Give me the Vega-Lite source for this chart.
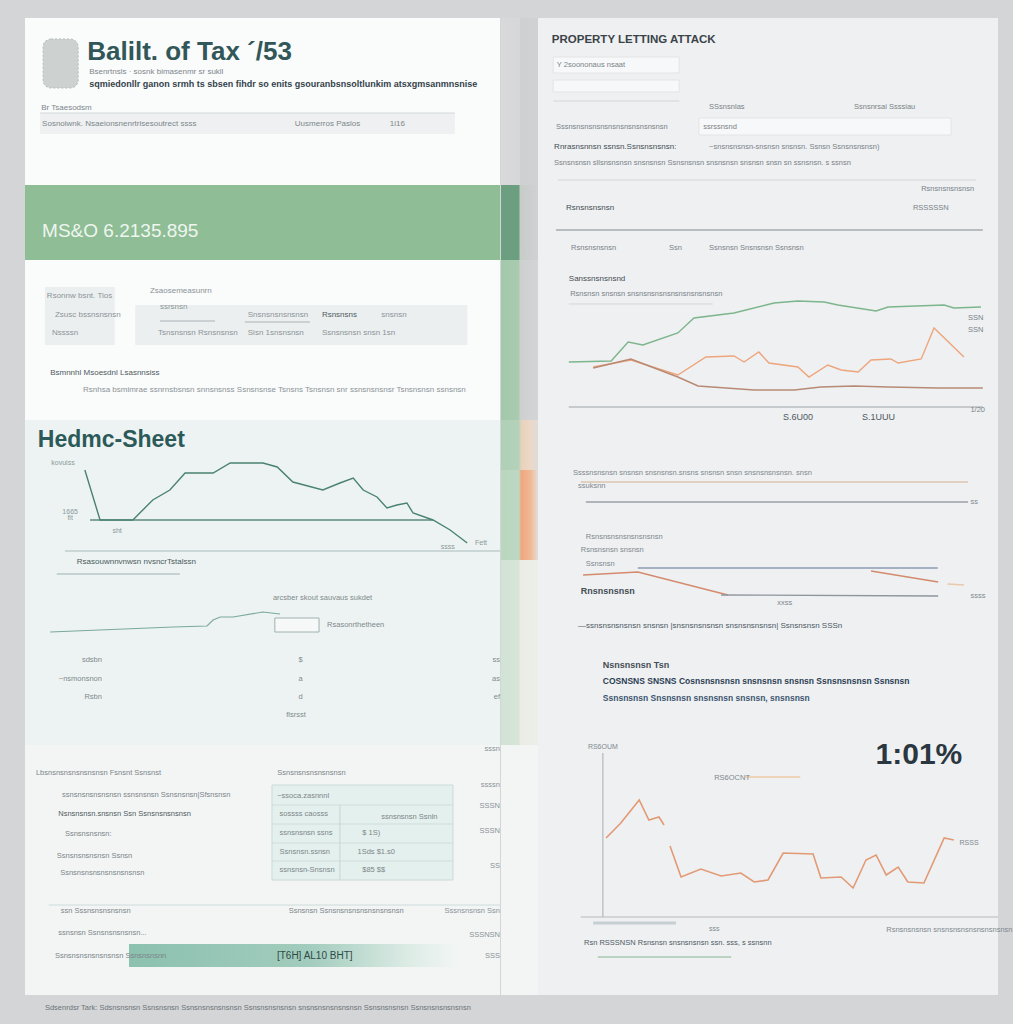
{
"$schema":"https://vega.github.io/schema/vega-lite/v6.json",
"background":"#d4d5d7",
"padding":{"left":25,"top":18,"right":0,"bottom":0},
"spacing":0,
"resolve":{"scale":{"color":"independent"}},
"config":{"view":{"stroke":null},"text":{"font":"Liberation Sans Narrow, Liberation Sans, sans-serif"},"concat":{"spacing":0}},
"hconcat":[
{"spacing":0,"bounds":"flush","vconcat":[
{"width":475,"height":167,"view":{"fill":"#fafbfb"},
"encoding":{"x":{"field":"t","type":"quantitative","scale":{"domain":[0,100],"nice":false,"zero":false},"axis":null},"y":{"field":"v","type":"quantitative","scale":{"domain":[0,167],"nice":false,"zero":false},"axis":null}},
"layer":[
{"data":{"values":[{"t":3.8,"t2":11.2,"v":146,"v2":97}]},"mark":{"type":"rect","color":"#cdd2d1","cornerRadius":8,"stroke":"#b4bcbb","strokeDash":[2,2],"strokeWidth":1},"encoding":{"x2":{"field":"t2"},"y2":{"field":"v2"}}},
{"data":{"values":[{"t":3.2,"t2":90.5,"v":72,"v2":51}]},"mark":{"type":"rect","color":"#eef0f1"},"encoding":{"x2":{"field":"t2"},"y2":{"field":"v2"}}},
{"data":{"values":[{"t":3.2,"t2":90.5,"v":72}]},"mark":{"type":"rule","color":"#d3d8da"},"encoding":{"x2":{"field":"t2"}}},
{"data":{"values":[{"t":13.1,"v":133,"txt":"Balilt. of Tax ´/53"}]},"mark":{"type":"text","align":"left","baseline":"middle","font":"Liberation Sans","fontWeight":"bold","fontSize":26,"color":"#325759"},"encoding":{"text":{"field":"txt"}}},
{"data":{"values":[{"t":13.5,"v":113,"txt":"Bsenrtnsls · sosnk bimasenmr sr sukll"},{"t":3.4,"v":77,"txt":"Br Tsaesodsm"},{"t":3.6,"v":61,"txt":"Sosnoiwnk. Nsaeionsnenrtrisesoutrect  ssss"},{"t":56.8,"v":61,"txt":"Uusmerros  Paslos"},{"t":76.8,"v":61,"txt":"1i16"}]},"mark":{"type":"text","align":"left","baseline":"middle","fontSize":8,"color":"#7d868b"},"encoding":{"text":{"field":"txt"}}},
{"data":{"values":[{"t":13.5,"v":101,"txt":"sqmiedonllr  ganon  srmh ts sbsen fihdr so enits gsouranbsnsoltlunkim atsxgmsanmnsnise"}]},"mark":{"type":"text","align":"left","baseline":"middle","fontSize":9,"fontWeight":"bold","color":"#34424a"},"encoding":{"text":{"field":"txt"}}}
]},
{"width":475,"height":75,"view":{"fill":"#8fbd96"},
"encoding":{"x":{"field":"t","type":"quantitative","scale":{"domain":[0,100],"nice":false,"zero":false},"axis":null},"y":{"field":"v","type":"quantitative","scale":{"domain":[0,75],"nice":false,"zero":false},"axis":null}},
"layer":[
{"data":{"values":[{"t":3.6,"v":29,"txt":"MS&O 6.2135.895"}]},"mark":{"type":"text","align":"left","baseline":"middle","font":"Liberation Sans","fontSize":19,"color":"#eef6ef"},"encoding":{"text":{"field":"txt"}}}
]},
{"width":475,"height":160,"view":{"fill":"#fafbfb"},
"encoding":{"x":{"field":"t","type":"quantitative","scale":{"domain":[0,100],"nice":false,"zero":false},"axis":null},"y":{"field":"v","type":"quantitative","scale":{"domain":[0,160],"nice":false,"zero":false},"axis":null}},
"layer":[
{"data":{"values":[{"t":4.2,"t2":18.9,"v":133,"v2":75},{"t":23.2,"t2":93.1,"v":115,"v2":75}]},"mark":{"type":"rect","color":"#eceff0"},"encoding":{"x2":{"field":"t2"},"y2":{"field":"v2"}}},
{"data":{"values":[{"t":46.3,"t2":60,"v":98},{"t":28.4,"t2":40,"v":99}]},"mark":{"type":"rule","color":"#aab3b6"},"encoding":{"x2":{"field":"t2"}}},
{"data":{"values":[{"t":4.6,"v":124,"txt":"Rsonnw bsnt. Tios"},{"t":6.3,"v":105,"txt":"Zsusc bssnsnsnsn"},{"t":5.7,"v":87,"txt":"Nssssn"},{"t":26.3,"v":129,"txt":"Zsaosemeasunrn"},{"t":28.4,"v":113,"txt":"ssrsnsn"},{"t":46.9,"v":105,"txt":"Snsnsnsnsnsnsn"},{"t":75,"v":105,"txt":"snsnsn"},{"t":28,"v":87,"txt":"Tsnsnsnsn  Rsnsnsnsn"},{"t":46.9,"v":87,"txt":"Sisn 1snsnsnsn"},{"t":62.5,"v":87,"txt":"Ssnsnsnsn snsn 1sn"},{"t":12.2,"v":30,"txt":"Rsnhsa bsmimrae ssnrnsbsnsn snnsnsnss  Ssnsnsnse  Tsnsns Tsnsnsn snr ssnsnsnsnsr Tsnsnsnsn  ssnsnsn"}]},"mark":{"type":"text","align":"left","baseline":"middle","fontSize":8,"color":"#8b9498"},"encoding":{"text":{"field":"txt"}}},
{"data":{"values":[{"t":62.5,"v":105,"txt":"Rsnsnsns"},{"t":5.3,"v":47,"txt":"Bsmnnhl Msoesdnl  Lsasnnsiss"}]},"mark":{"type":"text","align":"left","baseline":"middle","fontSize":8,"color":"#4f5a60"},"encoding":{"text":{"field":"txt"}}}
]},
{"width":475,"height":140,"view":{"fill":"#edf3f2"},
"encoding":{"x":{"field":"t","type":"quantitative","scale":{"domain":[0,100],"nice":false,"zero":false},"axis":null},"y":{"field":"v","type":"quantitative","scale":{"domain":[0,140],"nice":false,"zero":false},"axis":null}},
"layer":[
{"data":{"values":[{"t":8.4,"t2":100,"v":9}]},"mark":{"type":"rule","color":"#a9bbbc"},"encoding":{"x2":{"field":"t2"}}},
{"data":{"values":[{"t":13.7,"t2":85.9,"v":40}]},"mark":{"type":"rule","color":"#5b8a7d","strokeWidth":1.5},"encoding":{"x2":{"field":"t2"}}},
{"data":{"values":[{"t":12.6,"v":90},{"t":15.8,"v":40},{"t":17.9,"v":40},{"t":22.7,"v":40},{"t":26.9,"v":60},{"t":30.5,"v":70},{"t":33.7,"v":87},{"t":39.6,"v":87},{"t":43.2,"v":97},{"t":50.1,"v":97},{"t":53.1,"v":93},{"t":56.4,"v":78},{"t":62.7,"v":70},{"t":66.3,"v":77},{"t":69.1,"v":82},{"t":71.2,"v":70},{"t":74.1,"v":63},{"t":76.2,"v":52},{"t":78.3,"v":55},{"t":80.4,"v":57},{"t":81.7,"v":47},{"t":85.9,"v":40},{"t":89.5,"v":30},{"t":93.1,"v":17}]},"mark":{"type":"line","color":"#4a8270","strokeWidth":1.4}},
{"data":{"values":[{"t":2.7,"v":120,"txt":"Hedmc-Sheet"}]},"mark":{"type":"text","align":"left","baseline":"middle","font":"Liberation Sans","fontWeight":"bold","fontSize":23,"color":"#2b5a59"},"encoding":{"text":{"field":"txt"}}},
{"data":{"values":[{"t":8,"v":97,"txt":"kovuiss"},{"t":9.5,"v":48,"txt":"1665"},{"t":9.5,"v":42,"txt":"fit"},{"t":19.4,"v":29,"txt":"sht"},{"t":96,"v":17,"txt":"Fett"},{"t":89,"v":13,"txt":"ssss"}]},"mark":{"type":"text","align":"center","baseline":"middle","fontSize":7,"color":"#8a9899"},"encoding":{"text":{"field":"txt"}}}
]},
{"width":475,"height":185,"view":{"fill":"#edf3f2"},
"encoding":{"x":{"field":"t","type":"quantitative","scale":{"domain":[0,100],"nice":false,"zero":false},"axis":null},"y":{"field":"v","type":"quantitative","scale":{"domain":[0,185],"nice":false,"zero":false},"axis":null}},
"layer":[
{"data":{"values":[{"t":6.7,"t2":32.6,"v":171}]},"mark":{"type":"rule","color":"#9db1b3"},"encoding":{"x2":{"field":"t2"}}},
{"data":{"values":[{"t":5.3,"v":113},{"t":31.2,"v":118},{"t":38.3,"v":119},{"t":39.6,"v":125},{"t":41.1,"v":128},{"t":43.8,"v":128},{"t":50.1,"v":133},{"t":53.7,"v":131}]},"mark":{"type":"line","color":"#7ba99b","strokeWidth":1.2}},
{"data":{"values":[{"t":52.6,"t2":61.9,"v":127,"v2":113}]},"mark":{"type":"rect","color":"#f6f9f8","stroke":"#9fb0b0","strokeWidth":1},"encoding":{"x2":{"field":"t2"},"y2":{"field":"v2"}}},
{"data":{"values":[{"t":10.9,"v":183,"txt":"Rsasouwnnvnwsn  nvsncrTstalssn"}]},"mark":{"type":"text","align":"left","baseline":"middle","fontSize":8,"color":"#4b5a5c"},"encoding":{"text":{"field":"txt"}}},
{"data":{"values":[{"t":52.2,"v":147,"txt":"arcsber skout  sauvaus  sukdet"},{"t":63.6,"v":120,"txt":"Rsasonrthetheen"},{"t":55,"v":30,"txt":"flsrsst"}]},"mark":{"type":"text","align":"left","baseline":"middle","fontSize":7.5,"color":"#7f8a8c"},"encoding":{"text":{"field":"txt"}}},
{"data":{"values":[{"t":16.2,"v":85,"txt":"sdsbn"},{"t":16.2,"v":66,"txt":"~nsmonsnon"},{"t":16.2,"v":48,"txt":"Rsbn"},{"t":100,"v":85,"txt":"ss"},{"t":100,"v":66,"txt":"as"},{"t":100,"v":48,"txt":"ef"}]},"mark":{"type":"text","align":"right","baseline":"middle","fontSize":7.5,"color":"#7f8a8c"},"encoding":{"text":{"field":"txt"}}},
{"data":{"values":[{"t":58,"v":85,"txt":"$"},{"t":58,"v":66,"txt":"a"},{"t":58,"v":48,"txt":"d"}]},"mark":{"type":"text","align":"center","baseline":"middle","fontSize":7.5,"color":"#7f8a8c"},"encoding":{"text":{"field":"txt"}}}
]},
{"width":475,"height":250,"view":{"fill":"#f3f5f5"},
"encoding":{"x":{"field":"t","type":"quantitative","scale":{"domain":[0,100],"nice":false,"zero":false},"axis":null},"y":{"field":"v","type":"quantitative","scale":{"domain":[0,250],"nice":false,"zero":false},"axis":null}},
"layer":[
{"data":{"values":[{"t":52,"t2":90.1,"v":210,"v2":115}]},"mark":{"type":"rect","color":"#e4f0ee","stroke":"#c9dad8","strokeWidth":1},"encoding":{"x2":{"field":"t2"},"y2":{"field":"v2"}}},
{"data":{"values":[{"t":52,"t2":90.1,"v":190},{"t":52,"t2":90.1,"v":171},{"t":52,"t2":90.1,"v":152},{"t":52,"t2":90.1,"v":134},{"t":5,"t2":100,"v":90}]},"mark":{"type":"rule","color":"#cddcda"},"encoding":{"x2":{"field":"t2"}}},
{"data":{"values":[{"t":66.3,"v":190,"v2":115}]},"mark":{"type":"rule","color":"#c5d6d4"},"encoding":{"y2":{"field":"v2"}}},
{"data":{"values":[{"t":21.9,"t2":91,"v":51,"v2":28}]},"mark":{"type":"rect","color":{"gradient":"linear","x1":0,"x2":1,"y1":0,"y2":0,"stops":[{"offset":0,"color":"#8cc1af"},{"offset":0.55,"color":"#a2ccbd"},{"offset":0.85,"color":"#dcebe5"},{"offset":1,"color":"#f2f6f4"}]}},"encoding":{"x2":{"field":"t2"},"y2":{"field":"v2"}}},
{"data":{"values":[{"t":2.3,"v":222,"txt":"Lbsnsnsnsnsnsnsnsn Fsnsnt Ssnsnst"},{"t":53.1,"v":222,"txt":"Ssnsnsnsnsnsnsnsn"},{"t":7.8,"v":200,"txt":"ssnsnsnsnsnsnsn ssnsnsnsn Ssnsnsnsn|Sfsnsnsn"},{"t":8.4,"v":161,"txt":"Ssnsnsnsnsn:"},{"t":6.7,"v":139,"txt":"Ssnsnsnsnsnsn Ssnsn"},{"t":7.4,"v":122,"txt":"Ssnsnsnsnsnsnsnsnsnsn"},{"t":53.1,"v":199,"txt":"~ssoca.zasnnnl"},{"t":53.6,"v":181,"txt":"sossss caosss"},{"t":53.6,"v":162,"txt":"ssnsnsnsn ssns"},{"t":53.6,"v":143,"txt":"Ssnsnsn.ssnsn"},{"t":53.6,"v":125,"txt":"ssnsnsn-Snsnsn"},{"t":75,"v":178,"txt":"ssnsnsnsn Ssnln"},{"t":71,"v":162,"txt":"$  1S)"},{"t":70,"v":143,"txt":"1Sds  $1.s0"},{"t":71,"v":125,"txt":"$85  $$"},{"t":7.5,"v":84,"txt":"ssn Sssnsnsnsnsnsn"},{"t":55.5,"v":84,"txt":"Ssnsnsn Ssnsnsnsnsnsnsnsnsnsn"},{"t":7,"v":62,"txt":"ssnsnsn Ssnsnsnsnsnsn..."},{"t":6.3,"v":39,"txt":"Ssnsnsnsnsnsnsnsn Ssnsnsnsnn"}]},"mark":{"type":"text","align":"left","baseline":"middle","fontSize":7.5,"color":"#7c8689"},"encoding":{"text":{"field":"txt"}}},
{"data":{"values":[{"t":100,"v":84,"txt":"Sssnsnsnsn Ssn"},{"t":100,"v":60,"txt":"SSSNSN"},{"t":100,"v":39,"txt":"SSS"},{"t":100,"v":210,"txt":"ssssn"},{"t":100,"v":189,"txt":"SSSN"},{"t":100,"v":164,"txt":"SSSN"},{"t":100,"v":129,"txt":"SS"},{"t":100,"v":246,"txt":"sssn"}]},"mark":{"type":"text","align":"right","baseline":"middle","fontSize":7.5,"color":"#8a9396"},"encoding":{"text":{"field":"txt"}}},
{"data":{"values":[{"t":7,"v":181,"txt":"Nsnsnsnsn.snsnsn Ssn Ssnsnsnsnsnsn"}]},"mark":{"type":"text","align":"left","baseline":"middle","fontSize":7.5,"color":"#4e5a5e"},"encoding":{"text":{"field":"txt"}}},
{"data":{"values":[{"t":61,"v":39.5,"txt":"[T6H] AL10 BHT]"}]},"mark":{"type":"text","align":"center","baseline":"middle","fontSize":10,"color":"#2e4a48"},"encoding":{"text":{"field":"txt"}}}
]},
{"width":475,"height":29,
"encoding":{"x":{"field":"t","type":"quantitative","scale":{"domain":[0,100],"nice":false,"zero":false},"axis":null},"y":{"field":"v","type":"quantitative","scale":{"domain":[0,29],"nice":false,"zero":false},"axis":null}},
"layer":[
{"data":{"values":[{"t":4.2,"v":16,"txt":"Sdsenrdsr Tark: Sdsnsnsnsn Ssnsnsnsn Ssnsnsnsnsnsnsn Ssnsnsnsnsnsn snsnsnsnsnsnsnsn Ssnsnsnsnsn Ssnsnsnsnsnsnsn"}]},"mark":{"type":"text","align":"left","baseline":"middle","fontSize":7.5,"color":"#6b7478"},"encoding":{"text":{"field":"txt"}}}
]}
]},
{"spacing":0,"bounds":"flush","vconcat":[
{"width":37,"height":167,"data":{"values":[{}]},"mark":{"type":"rect","color":{"gradient":"linear","x1":0,"x2":1,"y1":0,"y2":0,"stops":[{"offset":0,"color":"#d9d9db"},{"offset":0.5,"color":"#d6d7d9"},{"offset":0.52,"color":"#cfd0d2"},{"offset":1,"color":"#d0d1d3"}]}},"encoding":{"x":{"value":0},"x2":{"value":"width"},"y":{"value":0},"y2":{"value":"height"}}},
{"width":37,"height":75,"data":{"values":[{}]},"mark":{"type":"rect","color":{"gradient":"linear","x1":0,"x2":1,"y1":0,"y2":0,"stops":[{"offset":0,"color":"#6c9f80"},{"offset":0.48,"color":"#6c9f80"},{"offset":0.52,"color":"#c6ccc8"},{"offset":1,"color":"#d0d1d3"}]}},"encoding":{"x":{"value":0},"x2":{"value":"width"},"y":{"value":0},"y2":{"value":"height"}}},
{"width":37,"height":160,"data":{"values":[{}]},"mark":{"type":"rect","color":{"gradient":"linear","x1":0,"x2":1,"y1":0,"y2":0,"stops":[{"offset":0,"color":"#a3c8ab"},{"offset":0.48,"color":"#a9cbb0"},{"offset":0.52,"color":"#ced0d0"},{"offset":1,"color":"#d3d4d6"}]}},"encoding":{"x":{"value":0},"x2":{"value":"width"},"y":{"value":0},"y2":{"value":"height"}}},
{"width":37,"height":50,"data":{"values":[{}]},"mark":{"type":"rect","color":{"gradient":"linear","x1":0,"x2":1,"y1":0,"y2":0,"stops":[{"offset":0,"color":"#afd0b6"},{"offset":0.48,"color":"#b3d2b9"},{"offset":0.55,"color":"#e9d2bc"},{"offset":0.8,"color":"#ecd8c6"},{"offset":1,"color":"#dedcda"}]}},"encoding":{"x":{"value":0},"x2":{"value":"width"},"y":{"value":0},"y2":{"value":"height"}}},
{"width":37,"height":90,"data":{"values":[{}]},"mark":{"type":"rect","color":{"gradient":"linear","x1":0,"x2":1,"y1":0,"y2":0,"stops":[{"offset":0,"color":"#b9d6bf"},{"offset":0.48,"color":"#bdd8c2"},{"offset":0.55,"color":"#f1a67f"},{"offset":0.8,"color":"#f0b996"},{"offset":1,"color":"#e4ddd8"}]}},"encoding":{"x":{"value":0},"x2":{"value":"width"},"y":{"value":0},"y2":{"value":"height"}}},
{"width":37,"height":185,"data":{"values":[{}]},"mark":{"type":"rect","color":{"gradient":"linear","x1":0,"x2":1,"y1":0,"y2":0,"stops":[{"offset":0,"color":"#d1e3d5"},{"offset":0.48,"color":"#d6e5d8"},{"offset":0.52,"color":"#ebece4"},{"offset":1,"color":"#eceee9"}]}},"encoding":{"x":{"value":0},"x2":{"value":"width"},"y":{"value":0},"y2":{"value":"height"}}},
{"width":37,"height":250,"data":{"values":[{}]},"mark":{"type":"rect","color":"#f3f5f5"},"encoding":{"x":{"value":0},"x2":{"value":"width"},"y":{"value":0},"y2":{"value":"height"}}}
]},
{"spacing":0,"bounds":"flush","resolve":{"scale":{"color":"independent"}},"vconcat":[
{"width":460,"height":402,"view":{"fill":"#eef0f2"},
"encoding":{"x":{"field":"t","type":"quantitative","scale":{"domain":[0,100],"nice":false,"zero":false},"axis":null},"y":{"field":"v","type":"quantitative","scale":{"domain":[0,402],"nice":false,"zero":false},"axis":null}},
"layer":[
{"data":{"values":[{"t":3.3,"t2":30.7,"v":363,"v2":347},{"t":3.3,"t2":30.7,"v":340,"v2":328},{"t":35,"t2":89.8,"v":302,"v2":285}]},"mark":{"type":"rect","color":"#f7f8f9","stroke":"#e2e4e6","strokeWidth":1},"encoding":{"x2":{"field":"t2"},"y2":{"field":"v2"}}},
{"data":{"values":[{"t":3.3,"t2":30.7,"v":319},{"t":4.3,"t2":95.2,"v":240},{"t":6.7,"t2":38,"v":116}]},"mark":{"type":"rule","color":"#d3d7da"},"encoding":{"x2":{"field":"t2"}}},
{"data":{"values":[{"t":3.9,"t2":96.7,"v":190}]},"mark":{"type":"rule","color":"#a5abb0","strokeWidth":1.5},"encoding":{"x2":{"field":"t2"}}},
{"data":{"values":[{"t":6.7,"t2":96.7,"v":13}]},"mark":{"type":"rule","color":"#9ea4a8"},"encoding":{"x2":{"field":"t2"}}},
{"data":{"values":[
{"series":"g","t":6.7,"v":58},{"series":"g","t":15.9,"v":59},{"series":"g","t":19.6,"v":78},{"series":"g","t":22.8,"v":75},{"series":"g","t":30.4,"v":87},{"series":"g","t":33.9,"v":102},{"series":"g","t":42.6,"v":107},{"series":"g","t":51.3,"v":117},{"series":"g","t":56.5,"v":119},{"series":"g","t":62.2,"v":118},{"series":"g","t":65.2,"v":115},{"series":"g","t":73.5,"v":109},{"series":"g","t":76.1,"v":113},{"series":"g","t":88.3,"v":115},{"series":"g","t":90.4,"v":112},{"series":"g","t":96.3,"v":113},
{"series":"o","t":12.0,"v":53},{"series":"o","t":20.2,"v":60},{"series":"o","t":30.4,"v":45},{"series":"o","t":36.5,"v":63},{"series":"o","t":42.6,"v":64},{"series":"o","t":44.8,"v":58},{"series":"o","t":48.0,"v":68},{"series":"o","t":50.2,"v":57},{"series":"o","t":56.5,"v":53},{"series":"o","t":58.9,"v":43},{"series":"o","t":63.0,"v":55},{"series":"o","t":65.9,"v":50},{"series":"o","t":69.6,"v":48},{"series":"o","t":72.4,"v":60},{"series":"o","t":76.7,"v":61},{"series":"o","t":78.3,"v":57},{"series":"o","t":83.3,"v":61},{"series":"o","t":86.1,"v":92},{"series":"o","t":92.6,"v":63},
{"series":"b","t":12.0,"v":52},{"series":"b","t":20.2,"v":61},{"series":"b","t":30.4,"v":43},{"series":"b","t":34.8,"v":34},{"series":"b","t":47.0,"v":30},{"series":"b","t":55.7,"v":30},{"series":"b","t":61.5,"v":33},{"series":"b","t":68.7,"v":34},{"series":"b","t":76.1,"v":33},{"series":"b","t":87.0,"v":32},{"series":"b","t":96.7,"v":32}]},
"mark":{"type":"line","strokeWidth":1.4},"encoding":{"color":{"field":"series","type":"nominal","scale":{"domain":["g","o","b"],"range":["#7db58c","#eea57c","#b88a74"]},"legend":null}}},
{"data":{"values":[{"t":3.0,"v":380,"txt":"PROPERTY LETTING ATTACK"}]},"mark":{"type":"text","align":"left","baseline":"middle","fontWeight":"bold","fontSize":11.5,"color":"#3b4348"},"encoding":{"text":{"field":"txt"}}},
{"data":{"values":[{"t":3.5,"v":273,"txt":"Rnrasnsnnsn ssnsn.Ssnsnsnsnsn:"},{"t":6.1,"v":212,"txt":"Rsnsnsnsnsn"},{"t":6.7,"v":141,"txt":"Sanssnsnsnsnd"}]},"mark":{"type":"text","align":"left","baseline":"middle","fontSize":8,"color":"#454d53"},"encoding":{"text":{"field":"txt"}}},
{"data":{"values":[{"t":4.1,"v":355,"txt":"Y 2soononaus nsaat"},{"t":37.2,"v":313,"txt":"SSsnsnlas"},{"t":68.7,"v":313,"txt":"Ssnsnrsai  Ssssiau"},{"t":3.9,"v":293,"txt":"Sssnsnsnsnsnsnsnsnsnsnsnsnsn"},{"t":35.9,"v":293,"txt":"ssrssnsnd"},{"t":37.2,"v":273,"txt":"~snsnsnsnsn-snsnsn snsnsn. Ssnsn Ssnsnsnsnsn)"},{"t":3.5,"v":257,"txt":"Ssnsnsnsn sllsnsnsnsn snsnsnsn Ssnsnsnsn snsnsnsn snsnsn snsn sn ssnsnsn. s ssnsn"},{"t":83.3,"v":231,"txt":"Rsnsnsnsnsnsn"},{"t":81.5,"v":212,"txt":"RSSSSSN"},{"t":7.2,"v":172,"txt":"Rsnsnsnsnsn"},{"t":28.5,"v":172,"txt":"Ssn"},{"t":37.2,"v":172,"txt":"Ssnsnsn Snsnsnsn Ssnsnsn"},{"t":7,"v":126,"txt":"Rsnsnsn snsnsn snsnsnsnsnsnsnsnsnsnsnsn"},{"t":93.5,"v":102,"txt":"SSN"},{"t":93.5,"v":90,"txt":"SSN"},{"t":94,"v":10,"txt":"1/20"}]},"mark":{"type":"text","align":"left","baseline":"middle","fontSize":7.5,"color":"#7a8388"},"encoding":{"text":{"field":"txt"}}},
{"data":{"values":[{"t":56.5,"v":3,"txt":"S.6U00"},{"t":74,"v":3,"txt":"S.1UUU"}]},"mark":{"type":"text","align":"center","baseline":"middle","fontSize":9,"color":"#4f575d"},"encoding":{"text":{"field":"txt"}}}
]},
{"width":460,"height":320,"view":{"fill":"#eef0f2"},
"encoding":{"x":{"field":"t","type":"quantitative","scale":{"domain":[0,100],"nice":false,"zero":false},"axis":null},"y":{"field":"v","type":"quantitative","scale":{"domain":[0,320],"nice":false,"zero":false},"axis":null}},
"layer":[
{"data":{"values":[
{"series":"tan","t":9.3,"v":258},{"series":"tan","t":93.5,"v":258},
{"series":"gray1","t":10.4,"v":238},{"series":"gray1","t":93.5,"v":238},
{"series":"blue","t":21.7,"v":172},{"series":"blue","t":63,"v":172},{"series":"blue","t":86.9,"v":172},
{"series":"red1","t":9.8,"v":165},{"series":"red1","t":21.7,"v":168},{"series":"red1","t":37,"v":150},{"series":"red1","t":41.3,"v":145},
{"series":"red2","t":72.4,"v":169},{"series":"red2","t":87,"v":158},
{"series":"tail","t":89,"v":156},{"series":"tail","t":92.6,"v":155},
{"series":"gray2","t":39.8,"v":145},{"series":"gray2","t":87,"v":144}]},
"mark":{"type":"line","strokeWidth":1.3},"encoding":{"color":{"field":"series","type":"nominal","scale":{"domain":["tan","gray1","blue","red1","red2","tail","gray2"],"range":["#dcc6ae","#9aa2a9","#8c9db0","#d48a6c","#d48a6c","#e9c9a8","#8e969d"]},"legend":null}}},
{"data":{"values":[{"t":7.6,"v":267,"txt":"Ssssnsnsnsn snsnsn snsnsnsn.snsns snsnsn snsn snsnsnsnsnsn. snsn"},{"t":8.7,"v":254,"txt":"ssuksnn"},{"t":94,"v":238,"txt":"ss"},{"t":10.4,"v":203,"txt":"Rsnsnsnsnsnsnsnsnsn"},{"t":9.3,"v":190,"txt":"Rsnsnsnsn  snsnsn"},{"t":10.4,"v":176,"txt":"Ssnsnsn"},{"t":52,"v":137,"txt":"xxss"},{"t":94,"v":144,"txt":"ssss"}]},"mark":{"type":"text","align":"left","baseline":"middle","fontSize":7.5,"color":"#7f888d"},"encoding":{"text":{"field":"txt"}}},
{"data":{"values":[{"t":9.3,"v":149,"txt":"Rnsnsnsnsn"},{"t":14.1,"v":75,"txt":"Nsnsnsnsn Tsn"}]},"mark":{"type":"text","align":"left","baseline":"middle","fontSize":9,"fontWeight":"bold","color":"#454d53"},"encoding":{"text":{"field":"txt"}}},
{"data":{"values":[{"t":8.7,"v":114,"txt":"—ssnsnsnsnsnsn  snsnsn  |snsnsnsnsnsn  snsnsnsnsnsn|  Ssnsnsnsn  SSSn"}]},"mark":{"type":"text","align":"left","baseline":"middle","fontSize":8,"color":"#4d5962"},"encoding":{"text":{"field":"txt"}}},
{"data":{"values":[{"t":14.1,"v":59,"txt":"COSNSNS SNSNS Cosnsnsnsnsn snsnsnsn snsnsn Ssnsnsnsnsn Ssnsnsn"}]},"mark":{"type":"text","align":"left","baseline":"middle","fontSize":8.5,"fontWeight":"bold","color":"#2c3e52"},"encoding":{"text":{"field":"txt"}}},
{"data":{"values":[{"t":14.1,"v":42,"txt":"Ssnsnsnsn Snsnsnsn snsnsnsn snsnsn, snsnsnsn"}]},"mark":{"type":"text","align":"left","baseline":"middle","fontSize":8.5,"fontWeight":"bold","color":"#3d5570"},"encoding":{"text":{"field":"txt"}}}
]},
{"width":460,"height":255,"view":{"fill":"#eef0f2"},
"encoding":{"x":{"field":"t","type":"quantitative","scale":{"domain":[0,100],"nice":false,"zero":false},"axis":null},"y":{"field":"v","type":"quantitative","scale":{"domain":[0,255],"nice":false,"zero":false},"axis":null}},
"layer":[
{"data":{"values":[{"t":9.3,"t2":100,"v":78}]},"mark":{"type":"rule","color":"#b3b9bd","strokeWidth":1.2},"encoding":{"x2":{"field":"t2"}}},
{"data":{"values":[{"t":14.1,"v":78,"v2":242}]},"mark":{"type":"rule","color":"#b3b9bd","strokeWidth":1.2},"encoding":{"y2":{"field":"v2"}}},
{"data":{"values":[{"t":45,"t2":57,"v":218}]},"mark":{"type":"rule","color":"#efd3b6","strokeWidth":2},"encoding":{"x2":{"field":"t2"}}},
{"data":{"values":[{"t":12,"t2":30,"v":72}]},"mark":{"type":"rule","color":"#c6cfd1","strokeWidth":3},"encoding":{"x2":{"field":"t2"}}},
{"data":{"values":[{"t":13,"t2":42,"v":38}]},"mark":{"type":"rule","color":"#a9c8b2","strokeWidth":1.5},"encoding":{"x2":{"field":"t2"}}},
{"data":{"values":[
{"seg":"a","t":14.8,"v":157},{"seg":"a","t":18.0,"v":172},{"seg":"a","t":22.0,"v":195},{"seg":"a","t":24.1,"v":175},{"seg":"a","t":26.3,"v":178},{"seg":"a","t":27.4,"v":170},
{"seg":"b","t":28.7,"v":149},{"seg":"b","t":31.1,"v":118},{"seg":"b","t":35.4,"v":126},{"seg":"b","t":39.8,"v":119},{"seg":"b","t":44.1,"v":122},{"seg":"b","t":47.0,"v":113},{"seg":"b","t":50.0,"v":115},{"seg":"b","t":53.3,"v":142},{"seg":"b","t":59.8,"v":141},{"seg":"b","t":61.5,"v":117},{"seg":"b","t":65.9,"v":118},{"seg":"b","t":68.5,"v":107},{"seg":"b","t":71.3,"v":135},{"seg":"b","t":73.5,"v":140},{"seg":"b","t":75.7,"v":120},{"seg":"b","t":78.3,"v":128},{"seg":"b","t":80.4,"v":113},{"seg":"b","t":83.9,"v":112},{"seg":"b","t":88.3,"v":157},{"seg":"b","t":90.4,"v":155}]},
"mark":{"type":"line","color":"#e39a74","strokeWidth":1.6},"encoding":{"detail":{"field":"seg","type":"nominal"}}},
{"data":{"values":[{"t":82.8,"v":240,"txt":"1:01%"}]},"mark":{"type":"text","align":"center","baseline":"middle","fontWeight":"bold","fontSize":30,"color":"#2b3740"},"encoding":{"text":{"field":"txt"}}},
{"data":{"values":[{"t":14.1,"v":248,"txt":"RS6OUM"},{"t":93.7,"v":152,"txt":"RSSS"},{"t":38.3,"v":66,"txt":"sss"}]},"mark":{"type":"text","align":"center","baseline":"middle","fontSize":7,"color":"#80898e"},"encoding":{"text":{"field":"txt"}}},
{"data":{"values":[{"t":38.3,"v":217,"txt":"RS6OCNT"},{"t":75.7,"v":65,"txt":"Rsnsnsnsnsn snsnsnsnsnsnsnsnsnsn"}]},"mark":{"type":"text","align":"left","baseline":"middle","fontSize":7.5,"color":"#80898e"},"encoding":{"text":{"field":"txt"}}},
{"data":{"values":[{"t":10,"v":52,"txt":"Rsn RSSSNSN Rsnsnsn snsnsnsnsn ssn. sss, s ssnsnn"}]},"mark":{"type":"text","align":"left","baseline":"middle","fontSize":7.5,"color":"#4e5a63"},"encoding":{"text":{"field":"txt"}}}
]}
]}
]
}
